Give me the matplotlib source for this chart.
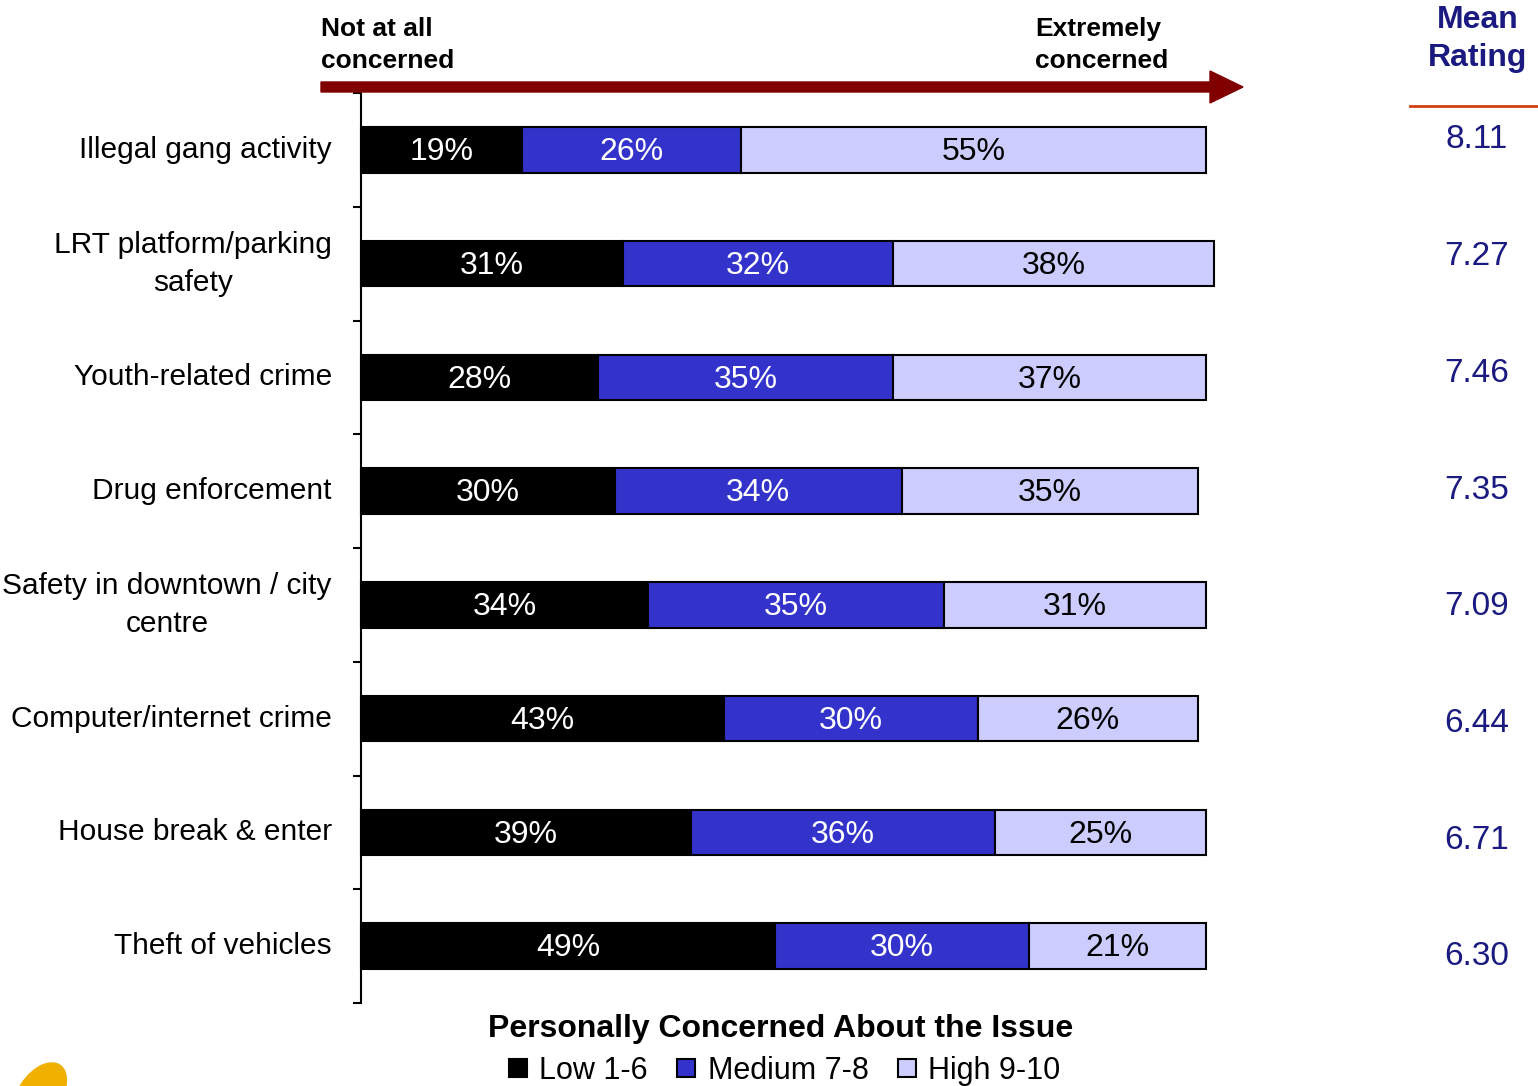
import numpy as np
import matplotlib.pyplot as plt
from matplotlib.patches import FancyArrow, Ellipse
from matplotlib.lines import Line2D

plt.rcParams['font.family'] = ['Liberation Sans', 'DejaVu Sans']

issues = ['Illegal gang activity', 'LRT platform/parking\nsafety', 'Youth-related crime',
          'Drug enforcement', 'Safety in downtown / city\ncentre', 'Computer/internet crime',
          'House break & enter', 'Theft of vehicles']
low = [19, 31, 28, 30, 34, 43, 39, 49]
medium = [26, 32, 35, 34, 35, 30, 36, 30]
high = [55, 38, 37, 35, 31, 26, 25, 21]
mean_rating = ['8.11', '7.27', '7.46', '7.35', '7.09', '6.44', '6.71', '6.30']
series_names = ['Low 1-6', 'Medium 7-8', 'High 9-10']
colors = ['#000000', '#3333CC', '#CCCCFF']
text_colors = ['white', 'white', 'black']

W, H = 1538, 1086
fig = plt.figure(figsize=(W / 100, H / 100), dpi=100)
ax = fig.add_axes([361 / W, 83 / H, 845 / W, 910 / H])

y = np.arange(len(issues))
left = np.zeros(len(issues))
for vals, c, tc in zip([low, medium, high], colors, text_colors):
    vals = np.array(vals)
    ax.barh(y, vals, left=left, height=0.4, color=c, edgecolor='black', linewidth=1.5, clip_on=False)
    for yi, l, v in zip(y, left, vals):
        ax.text(l + v / 2, yi + 0.02, f'{v}%', ha='center', va='center', color=tc, fontsize=23)
    left = left + vals

ax.set_xlim(0, 100)
ax.set_ylim(len(issues) - 0.5, -0.5)
ax.set_xticks([])
ax.set_yticks(y)
ax.set_yticklabels(issues, fontsize=21.5, multialignment='center', linespacing=1.45, va='center')
ax.set_yticks(np.arange(len(issues) + 1) - 0.5, minor=True)
ax.tick_params(axis='y', which='major', length=0, pad=21)
ax.tick_params(axis='y', which='minor', length=6, width=1.5)
for s in ['top', 'right', 'bottom']:
    ax.spines[s].set_visible(False)
ax.spines['left'].set_linewidth(1.5)

# header arrow
arrow = FancyArrow(3.21, 9.99, 9.22, 0, width=0.10, head_width=0.32, head_length=0.33,
                   length_includes_head=True, color='#800000', transform=fig.dpi_scale_trans)
fig.patches.append(arrow)
fig.text(321 / W, 1 - 45 / H, 'Not at all\nconcerned', fontsize=19, fontweight='bold',
         ha='left', va='center', linespacing=1.4)
fig.text(1035 / W, 1 - 45 / H, 'Extremely\nconcerned', fontsize=19, fontweight='bold',
         ha='left', va='center', linespacing=1.4)

# mean rating column
navy = '#1A1A80'
fig.text(1478 / W, 1 - 39 / H, 'Mean\nRating', fontsize=23, fontweight='bold', color=navy,
         ha='center', va='center', linespacing=1.35)
fig.add_artist(Line2D([1410 / W, 1.0], [1 - 106 / H, 1 - 106 / H], color='#D04010', lw=2))
for i, m in enumerate(mean_rating):
    fig.text(1477 / W, 1 - (140 + i * 116.7) / H, m, fontsize=24, color=navy,
             ha='center', va='center')

# bottom title and legend
fig.text(781 / W, 1 - 1029 / H, 'Personally Concerned About the Issue', fontsize=23,
         fontweight='bold', ha='center', va='center')
handles = [Line2D([], [], marker='s', linestyle='none', markersize=13, markerfacecolor=c,
                  markeredgecolor='black', markeredgewidth=1.5) for c in colors]
fig.legend(handles, series_names, loc='center', bbox_to_anchor=(783 / W, 1 - 1071 / H),
           ncol=3, frameon=False, fontsize=22, handletextpad=0.3, columnspacing=0.85,
           handlelength=0.8, borderaxespad=0)

# corner logo fragment
fig.patches.append(Ellipse((0.40, -0.08), 0.42, 0.7, angle=-35, color='#F0B000',
                           transform=fig.dpi_scale_trans))

fig.savefig('out.png', dpi=100)
